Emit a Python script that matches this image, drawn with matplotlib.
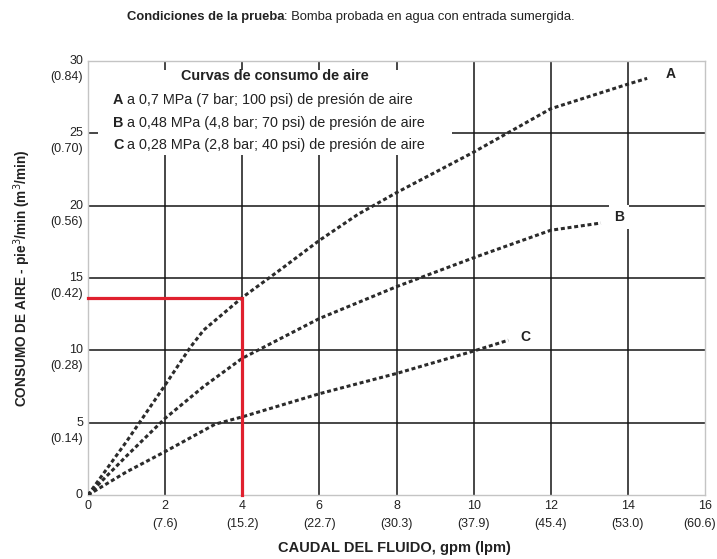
import matplotlib
matplotlib.use("Agg")
import matplotlib.pyplot as plt
from matplotlib.patches import Rectangle

plt.rcParams['font.family'] = ['Liberation Sans', 'DejaVu Sans']

# ── data ──────────────────────────────────────────────────────────────────────
flow_A = [0, 1, 2, 2.65, 3, 4, 5, 6, 7, 8, 10, 12, 14, 14.5]
air_A  = [0, 3.7, 7.6, 10.2, 11.4, 13.65, 15.6, 17.6, 19.4, 20.9, 23.7, 26.7, 28.4, 28.8]

flow_B = [0, 1, 2, 3, 4, 6, 8, 10, 12, 13.3]
air_B  = [0, 2.7, 5.3, 7.5, 9.45, 12.2, 14.4, 16.4, 18.3, 18.8]

flow_C = [0, 1, 2, 3.3, 4, 6, 8, 10, 10.9]
air_C  = [0, 1.6, 3.0, 4.9, 5.4, 7.0, 8.4, 9.95, 10.7]

# example operating point (red lines)
red_flow = 4
red_air  = 13.65

x_ticks     = [0, 2, 4, 6, 8, 10, 12, 14, 16]
x_tick_lpm  = ["", "(7.6)", "(15.2)", "(22.7)", "(30.3)", "(37.9)", "(45.4)", "(53.0)", "(60.6)"]
y_ticks     = [0, 5, 10, 15, 20, 25, 30]
y_tick_m3   = ["", "(0.14)", "(0.28)", "(0.42)", "(0.56)", "(0.70)", "(0.84)"]

legend_title = "Curvas de consumo de aire"
legend_rows = [
    ("A", " a 0,7 MPa (7 bar; 100 psi) de presión de aire"),
    ("B", " a 0,48 MPa (4,8 bar; 70 psi) de presión de aire"),
    ("C", " a 0,28 MPa (2,8 bar; 40 psi) de presión de aire"),
]

# ── figure ────────────────────────────────────────────────────────────────────
W, H = 717, 559
fig = plt.figure(figsize=(W / 100, H / 100), dpi=100)
fig.patch.set_facecolor("white")
ax = fig.add_axes([88 / W, 1 - 495 / H, (705 - 88) / W, (495 - 61) / H])
ax.set_xlim(0, 16)
ax.set_ylim(0, 30)

DOT = "#2b2b2b"
GRID = "#151515"
FS = 9.0      # tick labels
LFS = 10.4    # legend text

ax.set_xticks(x_ticks)
ax.set_yticks(y_ticks)
ax.tick_params(length=0, labelbottom=False, labelleft=False)
ax.grid(True, color=GRID, linewidth=1.1)
ax.set_axisbelow(True)
for gl in (ax.get_xgridlines()[0], ax.get_xgridlines()[-1],
           ax.get_ygridlines()[0], ax.get_ygridlines()[-1]):
    gl.set_visible(False)
for sp in ax.spines.values():
    sp.set_edgecolor("#c4c4c4")
    sp.set_linewidth(1.0)

# tick labels: value on first line, metric value below
for v, lab in zip(x_ticks, x_tick_lpm):
    ax.annotate(str(v), xy=(v, 0), xycoords=("data", "axes fraction"),
                xytext=(0, -11), textcoords="offset pixels",
                ha="center", va="center", fontsize=FS, color="#222")
    if lab:
        last = v == x_ticks[-1]
        ax.annotate(lab, xy=(v, 0), xycoords=("data", "axes fraction"),
                    xytext=(11 if last else 0, -29), textcoords="offset pixels",
                    ha="right" if last else "center", va="center",
                    fontsize=FS, color="#222", annotation_clip=False)
for v, lab in zip(y_ticks, y_tick_m3):
    ax.annotate(str(v), xy=(0, v), xycoords=("axes fraction", "data"),
                xytext=(-5, 0), textcoords="offset pixels",
                ha="right", va="center", fontsize=FS, color="#222")
    if lab:
        ax.annotate(lab, xy=(0, v), xycoords=("axes fraction", "data"),
                    xytext=(-5, -16), textcoords="offset pixels",
                    ha="right", va="center", fontsize=FS, color="#222")

# curves
curve_style = dict(color=DOT, linewidth=2.2, dashes=(1.3, 0.9),
                   dash_capstyle="butt", zorder=4)
ax.plot(flow_A, air_A, **curve_style)
ax.plot(flow_B, air_B, **curve_style)
ax.plot(flow_C, air_C, **curve_style)

# red operating lines
ax.plot([0, red_flow, red_flow], [red_air, red_air, 0], color="#e0202e",
        linewidth=2.3, solid_joinstyle="miter", zorder=5, clip_on=False)

# curve letters
ax.text(flow_A[-1] + 0.6, air_A[-1] + 0.3, "A", fontsize=10, fontweight="bold",
        ha="center", va="center", color="#222", zorder=6)
ax.text(flow_B[-1] + 0.47, air_B[-1] + 0.4, "B", fontsize=10, fontweight="bold",
        ha="center", va="center", color="#222", zorder=6,
        bbox=dict(facecolor="white", edgecolor="none", pad=3.5))
ax.text(flow_C[-1] + 0.43, air_C[-1] + 0.2, "C", fontsize=10, fontweight="bold",
        ha="center", va="center", color="#222", zorder=6)

# legend box (white panel over the grid)
ax.add_patch(Rectangle((0.26, 23.5), 9.18, 5.9, facecolor="white",
                       edgecolor="none", zorder=3))
ax.text(4.85, 28.93, legend_title, fontsize=LFS, fontweight="bold",
        ha="center", va="center", color="#222", zorder=6)
row_y = [27.27, 25.74, 24.22]
for (letter, rest), y in zip(legend_rows, row_y):
    t = ax.text(0.65, y, letter, fontsize=LFS, fontweight="bold",
                ha="left", va="center", color="#222", zorder=6)
    ax.annotate(rest, xy=(1, 0), xycoords=t, va="bottom", ha="left",
                fontsize=LFS, color="#222", zorder=6)

# titles
t = fig.text(127 / W, 1 - 17 / H, "Condiciones de la prueba", fontsize=9.4,
             fontweight="bold", ha="left", va="center", color="#222")
ax.annotate(": Bomba probada en agua con entrada sumergida.", xy=(1, 0),
            xycoords=t, va="bottom", ha="left", fontsize=9.4, color="#222",
            annotation_clip=False)

fig.text(394 / W, 1 - 548 / H, "CAUDAL DEL FLUIDO, gpm (lpm)", fontsize=10.5,
         fontweight="bold", ha="center", va="center", color="#222")
fig.text(22 / W, 1 - 278 / H, "CONSUMO DE AIRE - pie$^3$/min (m$^3$/min)",
         fontsize=9.8, fontweight="bold", rotation=90, ha="center", va="center",
         color="#222")

fig.savefig("out.png", dpi=100, facecolor="white")
